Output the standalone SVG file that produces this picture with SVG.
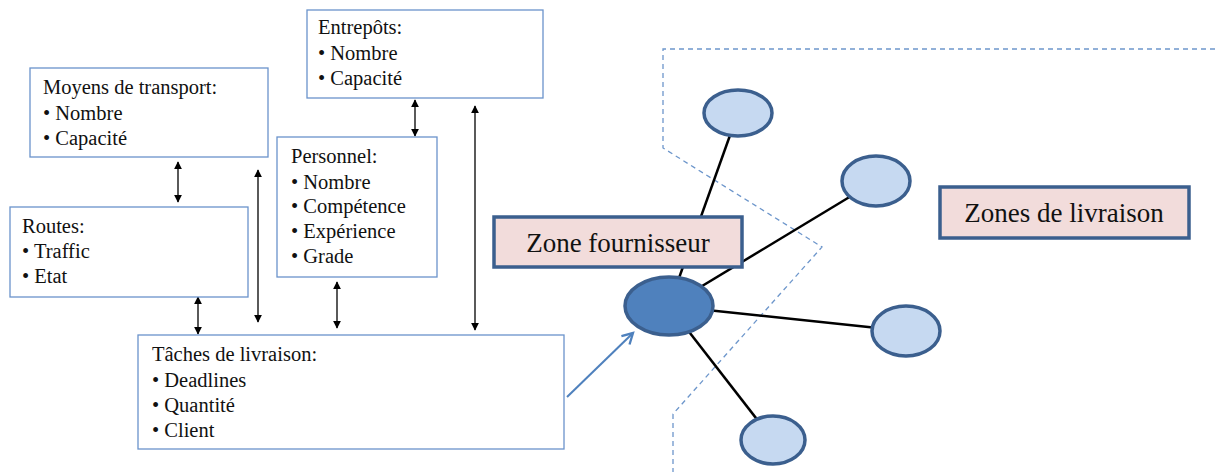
<svg xmlns="http://www.w3.org/2000/svg" width="1215" height="472" viewBox="0 0 1215 472">
<style>
.box{fill:#fff;stroke:#6A93CB;stroke-width:1.3}
.t{font-family:"Liberation Serif","Times New Roman",serif;font-size:20.5px;fill:#111}
.big{font-family:"Liberation Serif","Times New Roman",serif;font-size:27px;fill:#111}
.zbox{fill:#F2DCDB;stroke:#3B5F8E;stroke-width:3.5}
.dbl{stroke:#000;stroke-width:1.3;fill:none;marker-start:url(#ah);marker-end:url(#ah)}
.edge{stroke:#000;stroke-width:2.5}
.small{fill:#C6D9F1;stroke:#3B5F8E;stroke-width:3.5}
.dash{fill:none;stroke:#6D96CB;stroke-width:1.3;stroke-dasharray:5,4}
</style>
<defs>
<marker id="ah" viewBox="0 0 10 10" refX="9" refY="5" markerWidth="8" markerHeight="8" markerUnits="userSpaceOnUse" orient="auto-start-reverse">
<path d="M0,0 L10,5 L0,10 z" fill="#000"/>
</marker>
<marker id="bh" viewBox="0 0 12 12" refX="10" refY="6" markerWidth="14" markerHeight="14" markerUnits="userSpaceOnUse" orient="auto">
<path d="M1,1 L10,6 L1,11" fill="none" stroke="#4F81BD" stroke-width="2"/>
</marker>
</defs>
<rect width="1215" height="472" fill="#fff"/>
<path class="dash" d="M1215,49 L663,49 L663,148 L822,247 L673,414 L673,472"/>
<g id="connectors">
<line class="dbl" x1="178" y1="162" x2="178" y2="202"/>
<line class="dbl" x1="415" y1="100" x2="415" y2="136"/>
<line class="dbl" x1="198" y1="297" x2="198" y2="334"/>
<line class="dbl" x1="258" y1="170" x2="258" y2="322"/>
<line class="dbl" x1="337" y1="282" x2="337" y2="328"/>
<line class="dbl" x1="475" y1="106" x2="475" y2="330"/>
<line x1="567" y1="397" x2="633" y2="333" stroke="#4F81BD" stroke-width="2" marker-end="url(#bh)"/>
<line class="edge" x1="669" y1="306" x2="738" y2="113"/>
<line class="edge" x1="669" y1="306" x2="876" y2="181"/>
<line class="edge" x1="669" y1="306" x2="906" y2="331"/>
<line class="edge" x1="669" y1="306" x2="773" y2="440"/>
</g>
<g id="entrepots">
<rect class="box" x="307" y="10" width="236" height="88"/>
<text class="t" x="318" y="34">Entrepôts:</text>
<text class="t" x="318" y="60">• Nombre</text>
<text class="t" x="318" y="85">• Capacité</text>
</g>
<g id="moyens">
<rect class="box" x="30" y="68" width="238" height="89"/>
<text class="t" x="43" y="94">Moyens de transport:</text>
<text class="t" x="43" y="120">• Nombre</text>
<text class="t" x="43" y="145">• Capacité</text>
</g>
<g id="routes">
<rect class="box" x="10" y="207" width="238" height="90"/>
<text class="t" x="22" y="233">Routes:</text>
<text class="t" x="22" y="258">• Traffic</text>
<text class="t" x="22" y="283">• Etat</text>
</g>
<g id="personnel">
<rect class="box" x="277" y="137" width="160" height="140"/>
<text class="t" x="291" y="163">Personnel:</text>
<text class="t" x="291" y="189">• Nombre</text>
<text class="t" x="291" y="213">• Compétence</text>
<text class="t" x="291" y="238">• Expérience</text>
<text class="t" x="291" y="263">• Grade</text>
</g>
<g id="taches">
<rect class="box" x="138" y="335" width="426" height="114"/>
<text class="t" x="152" y="361">Tâches de livraison:</text>
<text class="t" x="152" y="387">• Deadlines</text>
<text class="t" x="152" y="412">• Quantité</text>
<text class="t" x="152" y="437">• Client</text>
</g>
<g id="zone-fournisseur">
<rect class="zbox" x="494" y="217" width="248" height="50"/>
<text class="big" x="618" y="252" text-anchor="middle">Zone fournisseur</text>
</g>
<g id="zones-livraison">
<rect class="zbox" x="940" y="187" width="249" height="51"/>
<text class="big" x="1064" y="222" text-anchor="middle">Zones de livraison</text>
</g>
<g id="central">
<ellipse cx="669" cy="306" rx="44" ry="29" fill="#4F81BD" stroke="#3B5F8E" stroke-width="3.5"/>
</g>
<g id="n1"><ellipse class="small" cx="738" cy="113" rx="34" ry="23"/></g>
<g id="n2"><ellipse class="small" cx="876" cy="181" rx="34" ry="25"/></g>
<g id="n3"><ellipse class="small" cx="906" cy="331" rx="34" ry="25"/></g>
<g id="n4"><ellipse class="small" cx="773" cy="440" rx="32" ry="24"/></g>
</svg>
